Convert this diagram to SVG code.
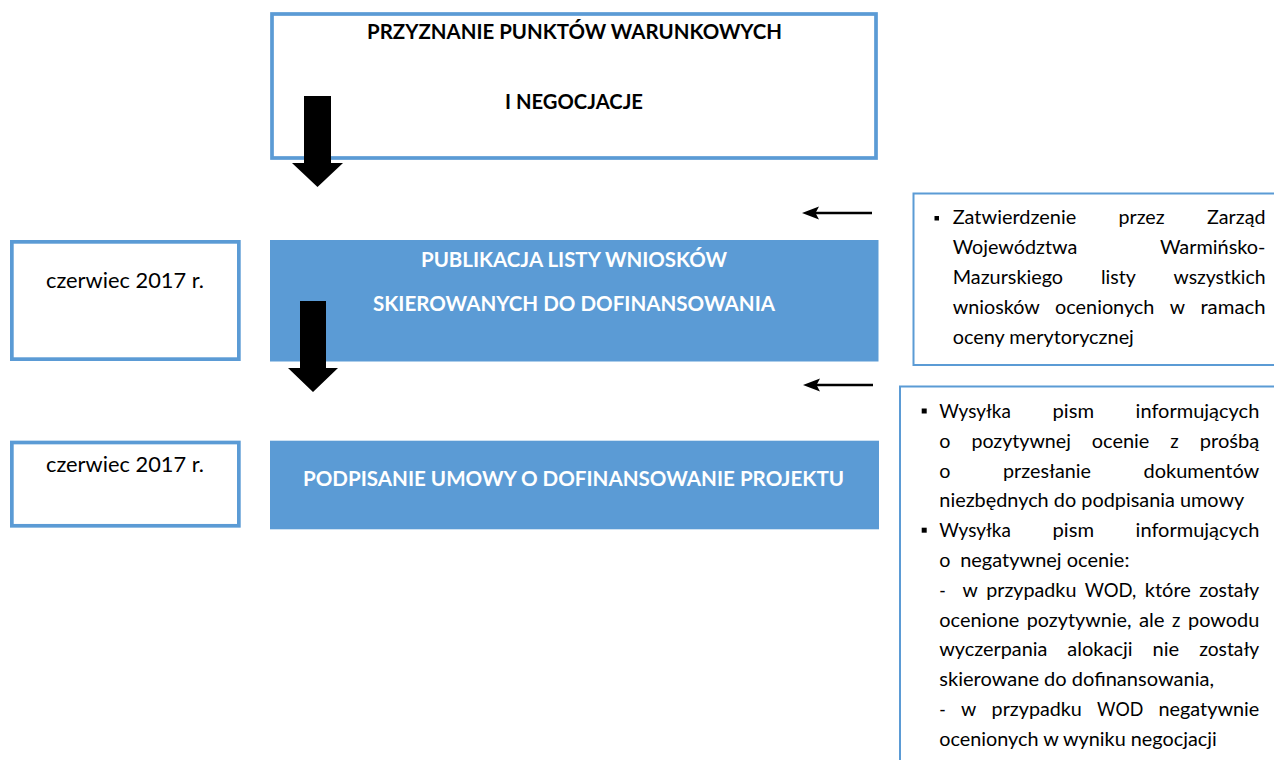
<svg xmlns="http://www.w3.org/2000/svg" width="1274" height="760" viewBox="0 0 1274 760">
<defs>
<style>
.box{fill:#fff;stroke:#5B9BD5;stroke-width:3.7}
.blue{fill:#5B9BD5}
.note{fill:#fff;stroke:#5B9BD5;stroke-width:2}
.t{font-family:Lato,"Open Sans","Liberation Sans",sans-serif;fill:#000}
.title{font-weight:bold;font-size:21.5px}
.wh{fill:#fff}
.body{font-size:19.6px}
.date{font-size:22px}
.blk{fill:#000}
.thin{stroke:#000;stroke-width:2.5}
.e{text-anchor:end}
</style>
</defs>
<rect width="1274" height="760" fill="#fff"/>

<g id="node-przyznanie">
<rect class="box" x="272" y="14" width="604" height="144"/>
<text class="t title" x="574.5" y="39" text-anchor="middle" textLength="415" lengthAdjust="spacingAndGlyphs">PRZYZNANIE PUNKTÓW WARUNKOWYCH</text>
<text class="t title" x="574" y="109" text-anchor="middle" textLength="138" lengthAdjust="spacingAndGlyphs">I NEGOCJACJE</text>
</g>

<g id="node-date1">
<rect class="box" x="11.85" y="241.85" width="227" height="117.3"/>
<text class="t date" x="125" y="288" text-anchor="middle" textLength="158" lengthAdjust="spacingAndGlyphs">czerwiec 2017 r.</text>
</g>

<g id="node-publikacja">
<rect class="blue" x="270" y="240" width="608.5" height="121.5"/>
<text class="t title wh" x="574" y="267" text-anchor="middle" textLength="306" lengthAdjust="spacingAndGlyphs">PUBLIKACJA LISTY WNIOSKÓW</text>
<text class="t title wh" x="574" y="311" text-anchor="middle" textLength="402" lengthAdjust="spacingAndGlyphs">SKIEROWANYCH DO DOFINANSOWANIA</text>
</g>

<g id="node-date2">
<rect class="box" x="11.85" y="442.5" width="227" height="83.3"/>
<text class="t date" x="125" y="472" text-anchor="middle" textLength="158" lengthAdjust="spacingAndGlyphs">czerwiec 2017 r.</text>
</g>

<g id="node-podpisanie">
<rect class="blue" x="270" y="440.7" width="609" height="88.6"/>
<text class="t title wh" x="573.5" y="486" text-anchor="middle" textLength="541" lengthAdjust="spacingAndGlyphs">PODPISANIE UMOWY O DOFINANSOWANIE PROJEKTU</text>
</g>

<g id="node-note1" class="t body">
<rect class="note" x="913.5" y="193.5" width="380" height="171.5"/>
<rect class="blk" x="934.5" y="216" width="4.5" height="4.5"/>
<text x="952.7" y="224" textLength="123.5" lengthAdjust="spacingAndGlyphs">Zatwierdzenie</text>
<text x="1118.5" y="224" textLength="46.1" lengthAdjust="spacingAndGlyphs">przez</text>
<text class="e" x="1265.5" y="224" textLength="58.5" lengthAdjust="spacingAndGlyphs">Zarząd</text>
<text x="952.7" y="254" textLength="124.7" lengthAdjust="spacingAndGlyphs">Województwa</text>
<text class="e" x="1265.5" y="254" textLength="105.6" lengthAdjust="spacingAndGlyphs">Warmińsko-</text>
<text x="952.7" y="284" textLength="110.4" lengthAdjust="spacingAndGlyphs">Mazurskiego</text>
<text x="1100.9" y="284" textLength="34.9" lengthAdjust="spacingAndGlyphs">listy</text>
<text class="e" x="1265.5" y="284" textLength="92" lengthAdjust="spacingAndGlyphs">wszystkich</text>
<text x="952.7" y="314" textLength="87.1" lengthAdjust="spacingAndGlyphs">wniosków</text>
<text x="1055.1" y="314" textLength="99.3" lengthAdjust="spacingAndGlyphs">ocenionych</text>
<text x="1169.8" y="314" textLength="15.3" lengthAdjust="spacingAndGlyphs">w</text>
<text class="e" x="1265.5" y="314" textLength="65.1" lengthAdjust="spacingAndGlyphs">ramach</text>
<text x="952.7" y="344" textLength="181.2" lengthAdjust="spacingAndGlyphs">oceny merytorycznej</text>
</g>

<g id="node-note2" class="t body">
<rect class="note" x="900" y="386.5" width="400" height="400"/>
<rect class="blk" x="921.7" y="408.5" width="5" height="5"/>
<rect class="blk" x="921.7" y="527.7" width="5" height="5"/>
<text x="939.3" y="418" textLength="71.6" lengthAdjust="spacingAndGlyphs">Wysyłka</text>
<text x="1052.5" y="418" textLength="41.5" lengthAdjust="spacingAndGlyphs">pism</text>
<text class="e" x="1259.3" y="418" textLength="123.7" lengthAdjust="spacingAndGlyphs">informujących</text>
<text x="939.3" y="447.8" textLength="11.2" lengthAdjust="spacingAndGlyphs">o</text>
<text x="971.4" y="447.8" textLength="99.5" lengthAdjust="spacingAndGlyphs">pozytywnej</text>
<text x="1091.8" y="447.8" textLength="57.6" lengthAdjust="spacingAndGlyphs">ocenie</text>
<text x="1170.3" y="447.8" textLength="8.4" lengthAdjust="spacingAndGlyphs">z</text>
<text class="e" x="1259.3" y="447.8" textLength="59.6" lengthAdjust="spacingAndGlyphs">prośbą</text>
<text x="939.3" y="477.6" textLength="11.2" lengthAdjust="spacingAndGlyphs">o</text>
<text x="1003" y="477.6" textLength="88" lengthAdjust="spacingAndGlyphs">przesłanie</text>
<text class="e" x="1259.3" y="477.6" textLength="115.8" lengthAdjust="spacingAndGlyphs">dokumentów</text>
<text x="939.3" y="507.4" textLength="305" lengthAdjust="spacingAndGlyphs">niezbędnych do podpisania umowy</text>
<text x="939.3" y="537.2" textLength="71.6" lengthAdjust="spacingAndGlyphs">Wysyłka</text>
<text x="1052.5" y="537.2" textLength="41.5" lengthAdjust="spacingAndGlyphs">pism</text>
<text class="e" x="1259.3" y="537.2" textLength="123.7" lengthAdjust="spacingAndGlyphs">informujących</text>
<text x="939.3" y="567" textLength="11.2" lengthAdjust="spacingAndGlyphs">o</text>
<text x="960.2" y="567" textLength="169.2" lengthAdjust="spacingAndGlyphs">negatywnej ocenie:</text>
<text x="939.3" y="596.8" textLength="6.5" lengthAdjust="spacingAndGlyphs">-</text>
<text x="962.5" y="596.8" textLength="15.3" lengthAdjust="spacingAndGlyphs">w</text>
<text x="986.2" y="596.8" textLength="90.2" lengthAdjust="spacingAndGlyphs">przypadku</text>
<text x="1084.7" y="596.8" textLength="51.6" lengthAdjust="spacingAndGlyphs">WOD,</text>
<text x="1144.7" y="596.8" textLength="46.2" lengthAdjust="spacingAndGlyphs">które</text>
<text class="e" x="1259.3" y="596.8" textLength="60.1" lengthAdjust="spacingAndGlyphs">zostały</text>
<text x="939.3" y="626.6" textLength="80" lengthAdjust="spacingAndGlyphs">ocenione</text>
<text x="1026.8" y="626.6" textLength="104.6" lengthAdjust="spacingAndGlyphs">pozytywnie,</text>
<text x="1138.9" y="626.6" textLength="25.7" lengthAdjust="spacingAndGlyphs">ale</text>
<text x="1172.1" y="626.6" textLength="8.4" lengthAdjust="spacingAndGlyphs">z</text>
<text class="e" x="1259.3" y="626.6" textLength="71.3" lengthAdjust="spacingAndGlyphs">powodu</text>
<text x="939.3" y="656.4" textLength="108.1" lengthAdjust="spacingAndGlyphs">wyczerpania</text>
<text x="1067.3" y="656.4" textLength="65.3" lengthAdjust="spacingAndGlyphs">alokacji</text>
<text x="1152.5" y="656.4" textLength="26.7" lengthAdjust="spacingAndGlyphs">nie</text>
<text class="e" x="1259.3" y="656.4" textLength="60.1" lengthAdjust="spacingAndGlyphs">zostały</text>
<text x="939.3" y="686.2" textLength="274.7" lengthAdjust="spacingAndGlyphs">skierowane do dofinansowania,</text>
<text x="939.3" y="716" textLength="6.5" lengthAdjust="spacingAndGlyphs">-</text>
<text x="961.1" y="716" textLength="15.3" lengthAdjust="spacingAndGlyphs">w</text>
<text x="991.6" y="716" textLength="90.2" lengthAdjust="spacingAndGlyphs">przypadku</text>
<text x="1097.1" y="716" textLength="46.2" lengthAdjust="spacingAndGlyphs">WOD</text>
<text class="e" x="1259.3" y="716" textLength="100.8" lengthAdjust="spacingAndGlyphs">negatywnie</text>
<text x="939.3" y="745.8" textLength="277.4" lengthAdjust="spacingAndGlyphs">ocenionych w wyniku negocjacji</text>
</g>

<g id="connectors">
<polygon class="blk" points="304,96 331,96 331,163 343,163 317.5,187 292,163 304,163"/>
<polygon class="blk" points="300,301 326,301 326,368 338,368 313,392 288,368 300,368"/>
<line class="thin" x1="872" y1="213" x2="814" y2="213"/>
<polygon class="blk" points="802,213 819,206.5 815.5,213 819,219.5"/>
<line class="thin" x1="873" y1="385" x2="815" y2="385"/>
<polygon class="blk" points="803,385 820,378.5 816.5,385 820,391.5"/>
</g>
</svg>
